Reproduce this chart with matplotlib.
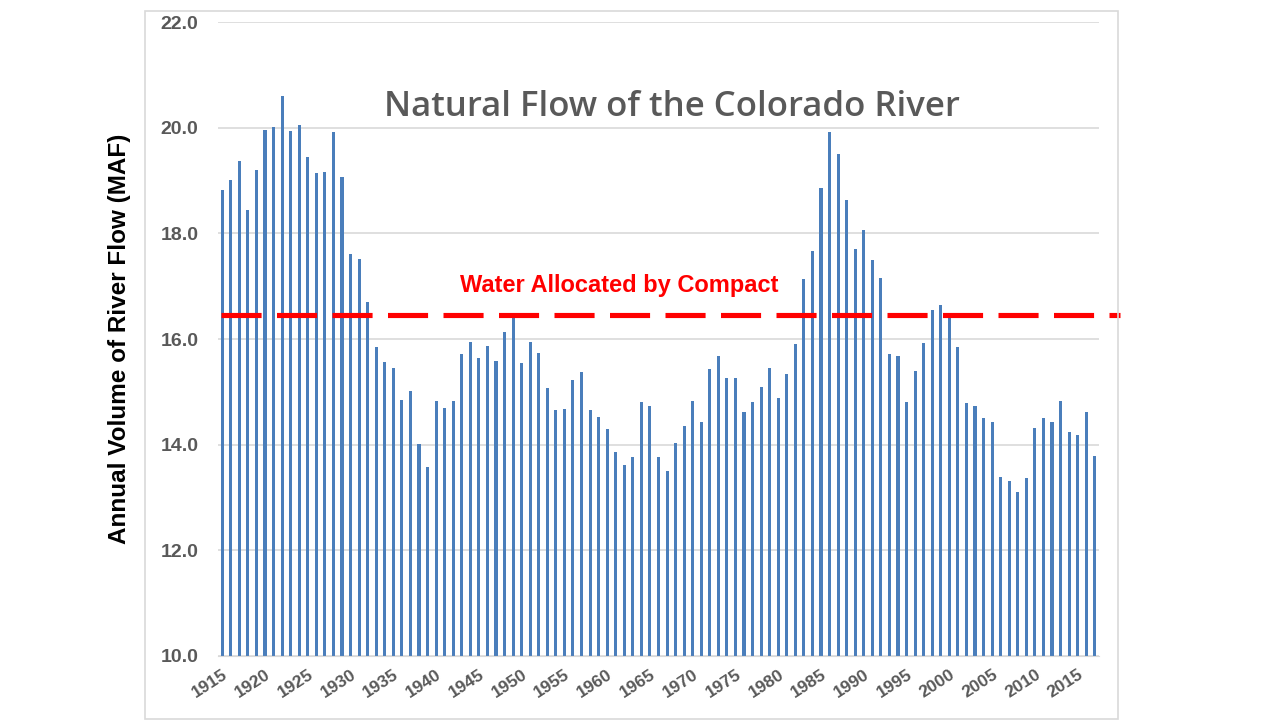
import matplotlib
matplotlib.use('Agg')
import matplotlib.pyplot as plt
from matplotlib.patches import Rectangle

# 数据：1915-2017 年科罗拉多河天然径流量 (MAF)
years = list(range(1915, 2018))
flow = [
    18.83, 19.01, 19.37, 18.44, 19.20, 19.96, 20.02, 20.60, 19.94, 20.06,
    19.45, 19.15, 19.17, 19.92, 19.07, 17.61, 17.52, 16.71, 15.85, 15.57,
    15.46, 14.84, 15.01, 14.02, 13.57, 14.82, 14.70, 14.82, 15.72, 15.94,
    15.64, 15.86, 15.58, 16.13, 16.42, 15.54, 15.94, 15.74, 15.07, 14.65,
    14.68, 15.22, 15.37, 14.65, 14.52, 14.30, 13.87, 13.61, 13.77, 14.80,
    14.74, 13.76, 13.50, 14.04, 14.36, 14.82, 14.42, 15.44, 15.68, 15.26,
    15.27, 14.62, 14.80, 15.10, 15.46, 14.88, 15.33, 15.90, 17.14, 17.67,
    18.86, 19.92, 19.51, 18.64, 17.70, 18.07, 17.49, 17.16, 15.72, 15.68,
    14.80, 15.40, 15.92, 16.55, 16.65, 16.45, 15.84, 14.78, 14.74, 14.50,
    14.42, 13.38, 13.31, 13.10, 13.36, 14.32, 14.50, 14.42, 14.83, 14.24,
    14.18, 14.61, 13.78,
]
compact = 16.46
y_ticks = [10.0, 12.0, 14.0, 16.0, 18.0, 20.0, 22.0]
x_ticks = list(range(1915, 2016, 5))

fig = plt.figure(figsize=(12.8, 7.2), dpi=100)
ax = fig.add_axes([0.1703, 0.0889, 0.6883, 0.8805])

# 图表外框
fig.patches.append(Rectangle((0.1133, 0.0014), 0.760, 0.9833, transform=fig.transFigure,
                             fill=False, edgecolor='#d9d9d9', linewidth=1.2))

ax.bar(years, [v - 10 for v in flow], bottom=10, width=0.36, color='#4a7ebb', zorder=2)
ax.axhline(compact, xmin=0.003, xmax=1.024, color='#ff0000', linewidth=3.7,
           dashes=(7.8, 3.0), clip_on=False, zorder=3)

ax.set_xlim(1914.5, 2017.5)
ax.set_ylim(10, 22)
ax.set_yticks(y_ticks)
ax.set_yticklabels(['%.1f' % t for t in y_ticks], fontsize=14, fontweight='bold',
                   color='#595959', family='Liberation Sans')
ax.set_xticks(x_ticks)
ax.set_xticklabels([str(t) for t in x_ticks], rotation=33, ha='right', rotation_mode='anchor',
                   fontsize=12.5, fontweight='bold', color='#595959', family='Liberation Sans')
ax.tick_params(axis='both', length=0)
ax.tick_params(axis='y', pad=14)
ax.tick_params(axis='x', pad=8)
ax.grid(axis='y', color='#d9d9d9', linewidth=1.2, zorder=0)
for s in ['left', 'right', 'top']:
    ax.spines[s].set_visible(False)
ax.spines['bottom'].set_color('#d9d9d9')

ax.set_ylabel('Annual Volume of River Flow (MAF)', fontsize=17.5, fontweight='bold',
              family='Liberation Sans', labelpad=21)
ax.text(0.515, 0.866, 'Natural Flow of the Colorado River', transform=ax.transAxes,
        ha='center', va='center', fontsize=25, fontweight='semibold', color='#595959',
        family='Open Sans')
ax.text(0.455, 0.585, 'Water Allocated by Compact', transform=ax.transAxes,
        ha='center', va='center', fontsize=17, fontweight='bold', color='#ff0000',
        family='Liberation Sans')

fig.savefig('out.png', dpi=100)
